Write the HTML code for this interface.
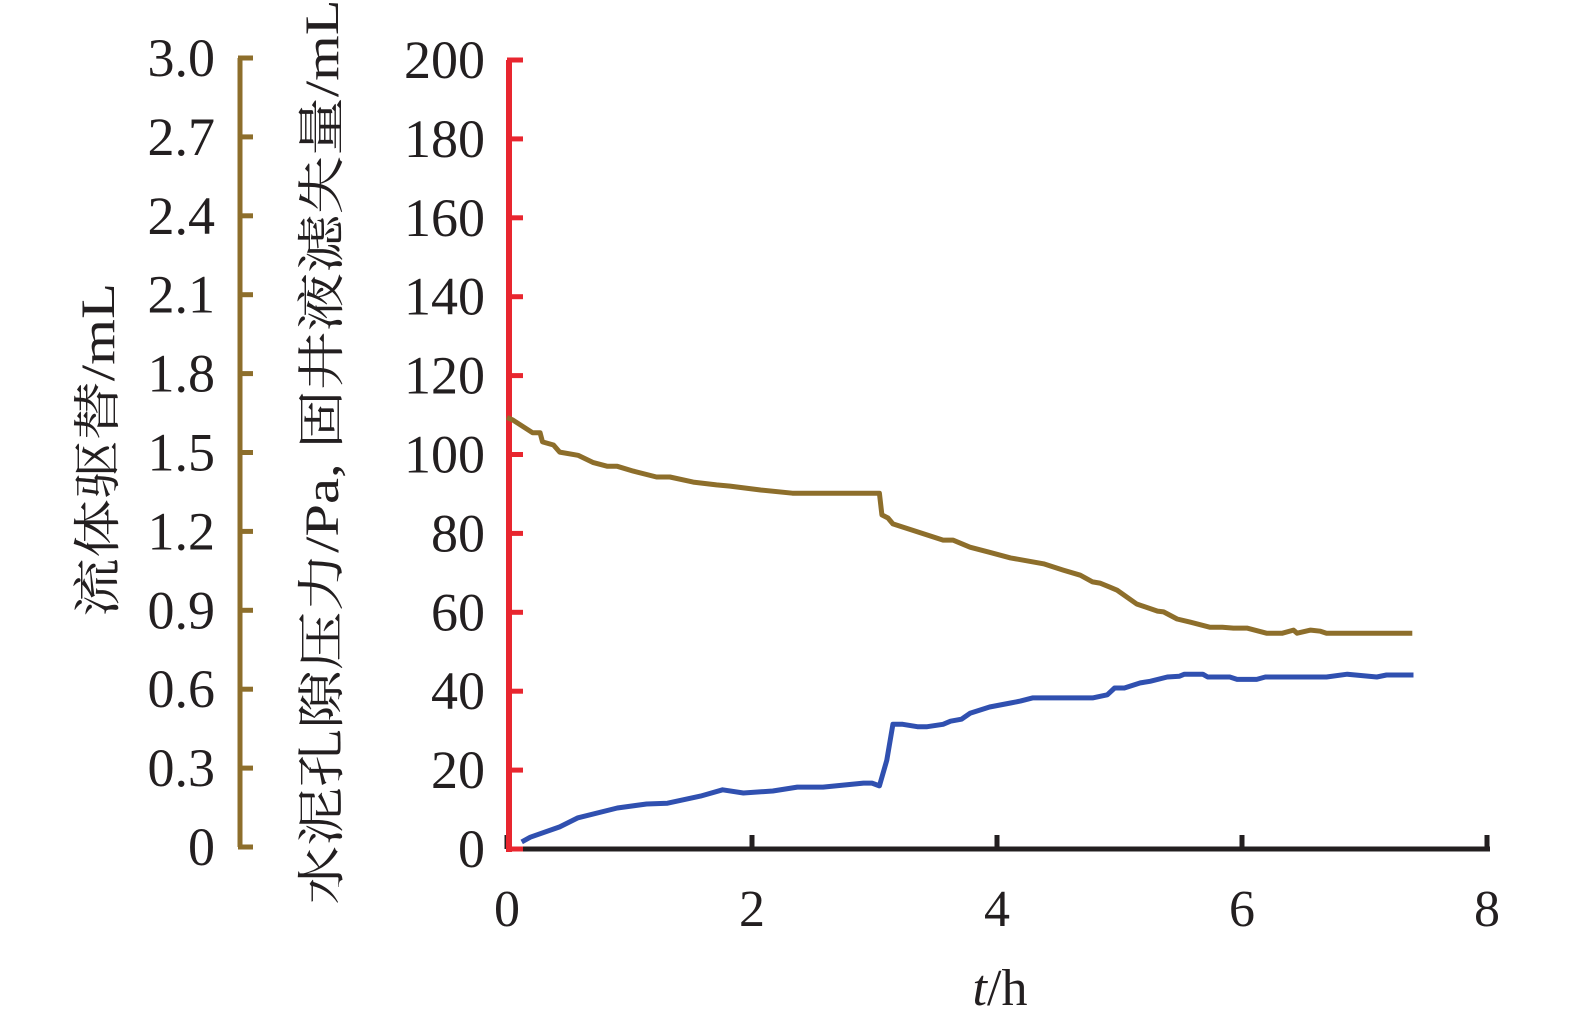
<!DOCTYPE html>
<html><head><meta charset="utf-8"><style>
html,body{margin:0;padding:0;background:#fff;}
svg{display:block;font-family:"Liberation Serif","Noto Serif CJK SC",serif;}
</style></head><body>
<svg id="chart" width="1575" height="1030" viewBox="0 0 1575 1030" xmlns="http://www.w3.org/2000/svg">
<g id="axes"></g>
<g id="series"></g>
</svg>
<script>
const xTicks = [0, 2, 4, 6, 8];
const leftTicks = [0, 20, 40, 60, 80, 100, 120, 140, 160, 180, 200];
const brownTicks = ["0", "0.3", "0.6", "0.9", "1.2", "1.5", "1.8", "2.1", "2.4", "2.7", "3.0"];
const brownT = [0,0.05,0.21,0.27,0.29,0.38,0.43,0.58,0.70,0.82,0.90,1.03,1.22,1.33,1.52,1.71,1.82,2.07,2.33,3.04,3.06,3.11,3.15,3.56,3.64,3.78,3.94,4.11,4.38,4.54,4.68,4.78,4.84,4.92,4.98,5.14,5.31,5.36,5.47,5.58,5.74,5.84,5.93,6.04,6.20,6.33,6.42,6.45,6.56,6.64,6.69,7.39];
const brownV = [109.4,108.7,105.5,105.5,103.2,102.4,100.6,99.8,98.0,97.0,97.0,95.8,94.3,94.3,93.0,92.3,92.0,91.0,90.2,90.2,84.7,83.9,82.4,78.3,78.3,76.5,75.2,73.8,72.3,70.7,69.4,67.7,67.4,66.4,65.6,62.1,60.3,60.1,58.3,57.5,56.2,56.2,56.0,56.0,54.7,54.7,55.5,54.7,55.5,55.2,54.7,54.7];
const blueT = [0.12,0.19,0.43,0.58,0.90,1.14,1.31,1.58,1.76,1.93,2.17,2.37,2.58,2.91,2.98,3.04,3.10,3.15,3.23,3.35,3.43,3.56,3.62,3.71,3.78,3.94,4.11,4.19,4.29,4.78,4.90,4.96,5.04,5.17,5.25,5.39,5.49,5.53,5.68,5.72,5.90,5.96,6.12,6.19,6.69,6.86,7.10,7.18,7.40];
const blueV = [1.8,3.0,5.6,7.9,10.4,11.4,11.6,13.4,15.0,14.2,14.7,15.7,15.7,16.7,16.7,16.0,22.5,31.6,31.6,31.0,31.0,31.6,32.4,32.9,34.4,36.0,37.0,37.5,38.3,38.3,39.1,40.8,40.8,42.1,42.5,43.6,43.8,44.3,44.3,43.6,43.6,43.0,43.0,43.6,43.6,44.3,43.6,44.1,44.1];

const NS = "http://www.w3.org/2000/svg";
const X0 = 507, XS = 122.5, Y0 = 849, YS = 3.945;
function xPos(t){ return X0 + t * XS; }
function yPos(v){ return Y0 - v * YS; }
function mk(tag, attrs, parent, text){
  const e = document.createElementNS(NS, tag);
  for (const k in attrs) e.setAttribute(k, attrs[k]);
  if (text !== undefined) e.textContent = text;
  parent.appendChild(e);
  return e;
}
const axes = document.getElementById("axes");
const series = document.getElementById("series");
const BROWN = "#8d6e2b", RED = "#e8262f", BLUE = "#3050b0", DARK = "#231f20";

// x axis
let xl = mk("line", {x1: X0, y1: Y0, x2: 1490, y2: Y0, stroke: DARK, "stroke-width": 5}, axes);


xTicks.forEach(function(t){
  const tk = mk("line", {x1: xPos(t), y1: Y0, x2: xPos(t), y2: Y0 - 14, stroke: DARK, "stroke-width": 5}, axes);
  
  
  const lb = mk("text", {x: xPos(t), y: 926, "font-size": 52, "text-anchor": "middle", fill: DARK}, axes, String(t));
  
  
});
const xt = mk("text", {x: 1000, y: 1005, "font-size": 52, "text-anchor": "middle", fill: DARK}, axes);


mk("tspan", {"font-style": "italic"}, xt, "t");
mk("tspan", {}, xt, "/h");

// red axis
const ra = mk("line", {x1: X0 + 2, y1: yPos(200), x2: X0 + 2, y2: Y0 + 3, stroke: RED, "stroke-width": 6}, axes);


leftTicks.forEach(function(v){
  const tk = mk("line", {x1: X0, y1: yPos(v), x2: 523, y2: yPos(v), stroke: RED, "stroke-width": 5}, axes);
  
  
  const lb = mk("text", {x: 485, y: yPos(v) + 18, "font-size": 54, "text-anchor": "end", fill: DARK}, axes, String(v));
  
  
});

// brown axis
const ba = mk("line", {x1: 240, y1: yPos(200) - 2, x2: 240, y2: Y0 - 2, stroke: BROWN, "stroke-width": 5}, axes);


brownTicks.forEach(function(s, i){
  const v = i * 20;
  const tk = mk("line", {x1: 238, y1: yPos(v) - 2, x2: 253, y2: yPos(v) - 2, stroke: BROWN, "stroke-width": 5}, axes);
  
  
  const lb = mk("text", {x: 215, y: yPos(v) + 16, "font-size": 54, "text-anchor": "end", fill: DARK}, axes, s);
  
  
});

// titles
const t1 = mk("text", {x: 0, y: 0, "font-size": 48, "text-anchor": "middle", fill: DARK, transform: "translate(114,450) rotate(-90)", textLength: 334, lengthAdjust: "spacingAndGlyphs"}, axes, "流体驱替/mL");


const t2 = mk("text", {x: 0, y: 0, "font-size": 48, "text-anchor": "middle", fill: DARK, transform: "translate(338,452) rotate(-90)", textLength: 905, lengthAdjust: "spacingAndGlyphs"}, axes, "水泥孔隙压力/Pa, 固井液滤失量/mL");



// series
function pts(T, V){ return T.map(function(t, i){ return xPos(t).toFixed(1) + "," + yPos(V[i]).toFixed(1); }).join(" "); }
const bl = mk("polyline", {points: pts(brownT, brownV), fill: "none", stroke: BROWN, "stroke-width": 5, "stroke-linejoin": "round"}, series);


const bu = mk("polyline", {points: pts(blueT, blueV), fill: "none", stroke: BLUE, "stroke-width": 5, "stroke-linejoin": "round"}, series);


</script>
</body></html>
